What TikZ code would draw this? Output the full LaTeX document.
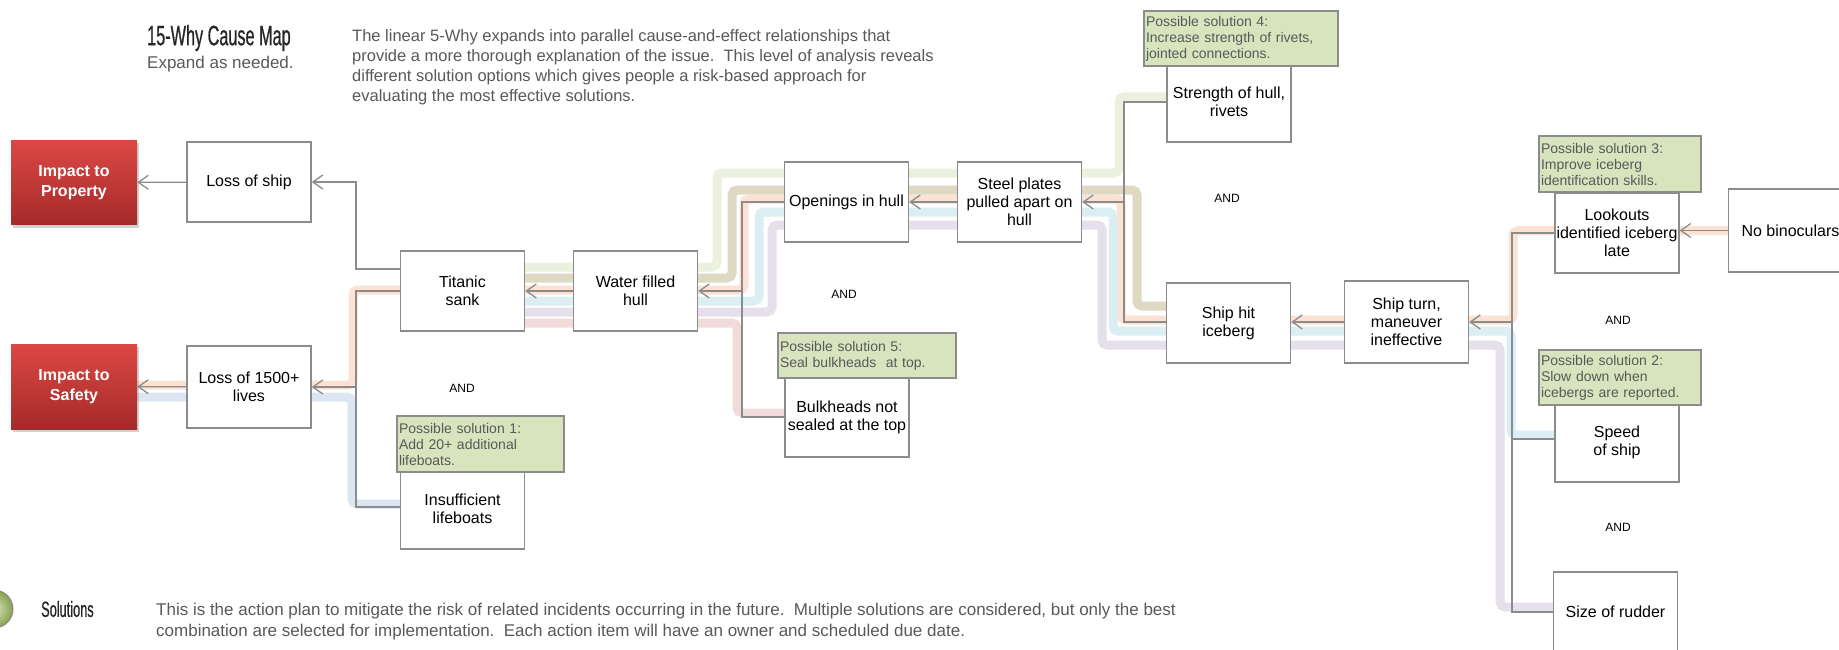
\documentclass[tikz,border=0pt]{standalone}
\usepackage{fontspec}
\setmainfont{Liberation Sans}
\newfontfamily\condfont[FakeStretch=0.58,FakeBold=0.6]{Liberation Sans}
\usetikzlibrary{arrows.meta,shadows}
\pgfdeclarelayer{background}
\pgfsetlayers{background,main}

\definecolor{boxgray}{HTML}{8C8C8C}
\definecolor{linkgray}{HTML}{8C8C8C}
\definecolor{textgray}{HTML}{595959}
\definecolor{solfill}{HTML}{D7E4BD}
\definecolor{impacttop}{HTML}{DC4844}
\definecolor{impactbot}{HTML}{A52A2A}
\definecolor{bandgreen}{HTML}{EBF1DE}
\definecolor{bandtan}{HTML}{DDD9C3}
\definecolor{bandpeach}{HTML}{FBE2D2}
\definecolor{bandblue}{HTML}{DAEEF3}
\definecolor{bandlilac}{HTML}{E5E0EC}
\definecolor{bandpink}{HTML}{F2DCDB}
\definecolor{bandsteel}{HTML}{DCE6F2}
\definecolor{icongreen}{HTML}{9BBB59}

\tikzset{
  cause/.style={draw=boxgray, fill=white, line width=1.4pt, minimum width=124pt,
    minimum height=80pt, inner sep=1pt, align=center, font=\fontsize{16}{18}\selectfont},
  impact/.style={top color=impacttop, bottom color=impactbot, minimum width=126pt,
    minimum height=84pt, align=center, text=white, font=\bfseries\fontsize{16}{20}\selectfont,
    drop shadow={shadow xshift=2pt, shadow yshift=-3pt, opacity=0.35}},
  solution/.style={draw=boxgray, fill=solfill, line width=1.2pt, inner sep=2pt,
    align=left, text=textgray, font=\fontsize{14}{16}\selectfont},
  link/.style={draw=linkgray, line width=1.3pt},
  leads/.style={link, -{Straight Barb[length=10pt,width=14pt,line width=1.3pt]}},
  band/.style={draw=#1, line width=9pt, rounded corners=5pt},
  andlabel/.style={font=\fontsize{12}{14}\selectfont},
}

\begin{document}
\begin{tikzpicture}[x=1pt,y=-1pt]
\useasboundingbox (0,0) rectangle (1839,650);

% header and footer texts
\node[anchor=west, inner sep=0pt, text=black!85, font=\condfont\fontsize{28}{30}\selectfont] (title) at (147,38) {15-Why Cause Map};
\node[anchor=west, inner sep=0pt, text=textgray, font=\fontsize{17}{20}\selectfont] (subtitle) at (147,64) {Expand as needed.};
\node[anchor=north west, inner sep=0pt, align=left, text=textgray, font=\fontsize{16.5}{20}\selectfont] (intro) at (352,29)
  {The linear 5-Why expands into parallel cause-and-effect relationships that\\
   provide a more thorough explanation of the issue.\ \ This level of analysis reveals\\
   different solution options which gives people a risk-based approach for\\
   evaluating the most effective solutions.};
\shade[inner color=icongreen!35, outer color=icongreen!85!black, draw=boxgray, line width=1pt] (-6,609) circle (19);
\node[anchor=west, inner sep=0pt, text=black!85, font=\condfont\fontsize{22}{24}\selectfont] (soltitle) at (41,609) {Solutions};
\node[anchor=north west, inner sep=0pt, align=left, text=textgray, font=\fontsize{17}{21}\selectfont] (soltext) at (156,602.5)
  {This is the action plan to mitigate the risk of related incidents occurring in the future.\ \ Multiple solutions are considered, but only the best\\
   combination are selected for implementation.\ \ Each action item will have an owner and scheduled due date.};

% effects and causes
\node[impact] (impprop) at (74,182.5) {Impact to\\Property};
\node[impact, minimum height=85pt] (impsafe) at (74,386.5) {Impact to\\Safety};
\node[cause] (lossship) at (249,182) {Loss of ship};
\node[cause, minimum height=82pt] (lives) at (249,387) {Loss of 1500+\\lives};
\node[cause] (titanic) at (462.5,291) {Titanic\\sank};
\node[cause] (water) at (635.5,291) {Water filled\\hull};
\node[cause] (lifeboats) at (462.5,509) {Insufficient\\lifeboats};
\node[cause] (openings) at (846.5,202) {Openings in hull};
\node[cause] (bulkheads) at (847,417) {Bulkheads not\\sealed at the top};
\node[cause] (steel) at (1019.5,202) {Steel plates\\pulled apart on\\hull};
\node[cause] (strength) at (1229,102) {Strength of hull,\\rivets};
\node[cause] (shiphit) at (1228.5,323) {Ship hit\\iceberg};
\node[cause, minimum height=82pt] (shipturn) at (1406.5,322) {Ship turn,\\maneuver\\ineffective};
\node[cause] (lookouts) at (1617,233) {Lookouts\\identified iceberg\\late};
\node[cause, minimum height=83pt] (binoculars) at (1790.5,230.5) {No binoculars};
\node[cause] (speed) at (1617,442) {Speed\\of ship};
\node[cause] (rudder) at (1615.5,612) {Size of rudder};

% possible solutions
\node[solution, text width=190pt, minimum height=55pt] (sol4) at (1241,38.5) {Possible solution 4:\\Increase strength of rivets,\\jointed connections.};
\node[solution, text width=158pt, minimum height=56pt] (sol3) at (1620,164) {Possible solution 3:\\Improve iceberg\\identification skills.};
\node[solution, text width=158pt, minimum height=55pt] (sol2) at (1620,377.5) {Possible solution 2:\\Slow down when\\icebergs are reported.};
\node[solution, text width=174pt, minimum height=45pt] (sol5) at (867,355.5) {Possible solution 5:\\Seal bulkheads\ \ at top.};
\node[solution, text width=163pt, minimum height=56pt] (sol1) at (480.5,444) {Possible solution 1:\\Add 20+ additional\\lifeboats.};

\node[andlabel] (and1) at (462,388) {AND};
\node[andlabel] (and2) at (844,294) {AND};
\node[andlabel] (and3) at (1227,198) {AND};
\node[andlabel] (and4) at (1618,320) {AND};
\node[andlabel] (and5) at (1618,527) {AND};

% junctions
\coordinate (j1) at (356,0);
\coordinate (j2) at (742,0);
\coordinate (j3) at (1124,0);
\coordinate (j4) at (1512,0);

\draw[leads] (lossship) -- (impprop);
\draw[leads] ([yshift=22pt]titanic.west) -| (j1 |- lossship) -- (lossship);
\draw[leads] (titanic.west) -| (j1 |- lives) -- (lives);
\draw[link] ([yshift=2pt]lifeboats.west) -| (j1 |- lives);
\draw[leads] (lives) -- (impsafe);
\draw[leads] (water) -- (titanic);
\draw[leads] (openings.west) -| (j2 |- water) -- (water);
\draw[link] (bulkheads.west) -| (j2 |- water);
\draw[leads] (steel) -- (openings);
\draw[leads] (strength.west) -| (j3 |- steel) -- (steel);
\draw[link] ([yshift=1pt]shiphit.west) -| (j3 |- steel);
\draw[leads] (shipturn.west) -- (shipturn.west -| shiphit.east);
\draw[leads] (lookouts.west) -| (j4 |- shipturn) -- (shipturn);
\draw[link] ([yshift=3pt]speed.west) -| (j4 |- shipturn);
\draw[link] (rudder.west) -| (j4 |- shipturn);
\draw[leads] (binoculars.west) -- (binoculars.west -| lookouts.east);

% highlighted solution paths
\begin{pgfonlayer}{background}
\fill[white] (0,0) rectangle (1839,650);
\draw[band=bandgreen] ([yshift=5pt]strength.west) -| (1119,173) -| (717,267) -- (525,267);
\draw[band=bandtan] ([yshift=17pt]shiphit.west) -| (1137,190) -| (732,278) -- (525,278);
\draw[band=bandpeach] (binoculars.west) -| (1513,320) -| (1121,199) -| (744,290) -| (353,385) -- (137,385);
\draw[band=bandblue] ([yshift=7pt]speed.west) -| (1511,331) -| (1113,212) -| (759,301) -- (525,301);
\draw[band=bandlilac] ([yshift=5pt]rudder.west) -| (1500,345) -| (1102,225) -| (772,312) -- (525,312);
\draw[band=bandpink] ([yshift=4pt]bulkheads.west) -| (737,323) -- (525,323);
\draw[band=bandsteel] ([yshift=5pt]lifeboats.west) -| (352,397) -- (137,397);
\end{pgfonlayer}
\end{tikzpicture}
\end{document}
